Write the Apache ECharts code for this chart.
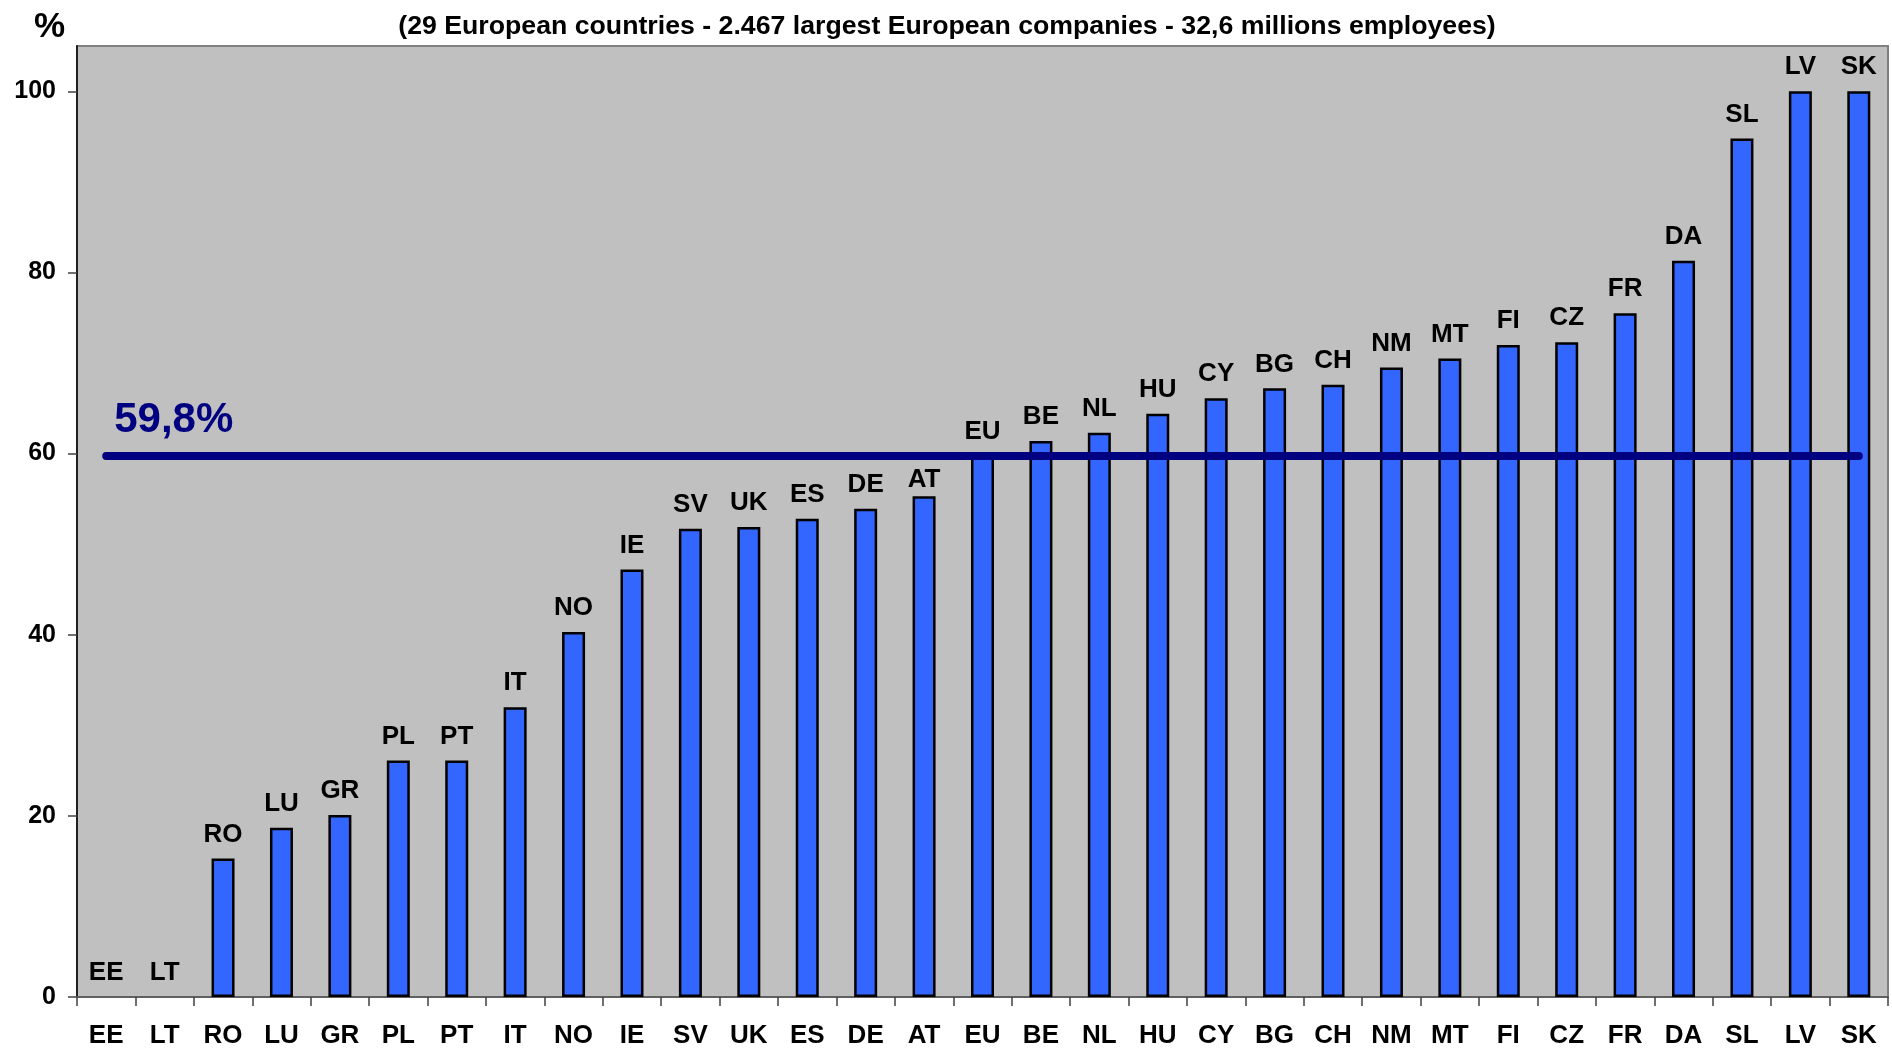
<!DOCTYPE html>
<html>
<head>
<meta charset="utf-8">
<script src="https://cdn.jsdelivr.net/npm/echarts@6/dist/echarts.min.js"></script>
<style>
  html, body { margin: 0; padding: 0; background: #fff; }
  #chart { width: 1892px; height: 1051px; }
</style>
</head>
<body>
<div id="chart"></div>
<script>
// countries, sorted by share
const countries = ['EE', 'LT', 'RO', 'LU', 'GR', 'PL', 'PT', 'IT', 'NO', 'IE', 'SV', 'UK', 'ES', 'DE', 'AT',
  'EU', 'BE', 'NL', 'HU', 'CY', 'BG', 'CH', 'NM', 'MT', 'FI', 'CZ', 'FR', 'DA', 'SL', 'LV', 'SK'];
// share in %
const shares = [0, 0, 15.3, 18.7, 20.1, 26.1, 26.1, 32.0, 40.3, 47.2, 51.7, 51.9, 52.8, 53.9, 55.3,
  59.8, 61.4, 62.3, 64.4, 66.1, 67.2, 67.6, 69.5, 70.5, 72.0, 72.3, 75.5, 81.3, 94.8, 100, 100];
const euAverage = 59.8;
const euAverageLabel = '59,8%';
const yTicks = [0, 20, 40, 60, 80, 100];

const font = 'Liberation Sans, Arial, sans-serif';

const chart = echarts.init(document.getElementById('chart'));

// bar items: no outline on empty bars, AT label pushed under the average line
let barData = shares.map((v, i) => {
  if (v === 0) return { value: v, itemStyle: { borderWidth: 0 } };
  if (countries[i] === 'AT') return { value: v, label: { distance: 3 } };
  return v;
});

let option = {
  animation: false,
  title: {
    text: '(29 European countries - 2.467 largest European companies - 32,6 millions employees)',
    left: 942,
    top: 8,
    textAlign: 'center',
    textStyle: { fontFamily: font, fontWeight: 'bold', fontSize: 26.7, color: '#000' }
  },
  grid: {
    left: 77,
    right: 4,
    top: 46,
    bottom: 54,
    show: true,
    backgroundColor: '#c0c0c0',
    borderColor: '#808080',
    borderWidth: 2
  },
  xAxis: {
    type: 'category',
    data: countries,
    axisLine: { lineStyle: { color: '#606060', width: 2 } },
    axisTick: { show: true, length: 9, lineStyle: { color: '#404040', width: 1.5 } },
    axisLabel: {
      margin: 26,
      fontFamily: font,
      fontWeight: 'bold',
      fontSize: 26,
      color: '#000'
    }
  },
  yAxis: {
    type: 'value',
    name: '%',
    nameLocation: 'end',
    nameGap: 1,
    nameTextStyle: { fontFamily: font, fontWeight: 'bold', fontSize: 35, color: '#000', align: 'right', padding: [0, 12, 0, 0] },
    min: 0,
    max: 105,
    interval: 20,
    splitLine: { show: false },
    axisLine: { show: true, lineStyle: { color: '#202020', width: 2 } },
    axisTick: { show: true, length: 9, lineStyle: { color: '#404040', width: 1.5 } },
    axisLabel: {
      showMaxLabel: false,
      margin: 21,
      fontFamily: font,
      fontWeight: 'bold',
      fontSize: 25,
      color: '#000',
      formatter: v => (yTicks.includes(v) ? String(v) : '')
    }
  },
  series: [{
    type: 'bar',
    barWidth: 23,
    data: barData,
    itemStyle: { color: '#3366ff', borderColor: '#000', borderWidth: 2.5 },
    label: {
      show: true,
      position: 'top',
      distance: 11,
      formatter: '{b}',
      fontFamily: font,
      fontWeight: 'bold',
      fontSize: 26,
      color: '#000'
    },
    markLine: {
      silent: true,
      symbol: 'none',
      lineStyle: { color: '#000080', width: 8, type: 'solid', cap: 'round' },
      label: {
        show: true,
        position: 'insideStartTop',
        distance: [8, 14],
        formatter: euAverageLabel,
        fontFamily: font,
        fontWeight: 'bold',
        fontSize: 42,
        color: '#000080'
      },
      data: [[
        { xAxis: countries[0], yAxis: euAverage },
        { xAxis: countries[countries.length - 1], yAxis: euAverage }
      ]]
    }
  }]
};

chart.setOption(option);
</script>
</body>
</html>
